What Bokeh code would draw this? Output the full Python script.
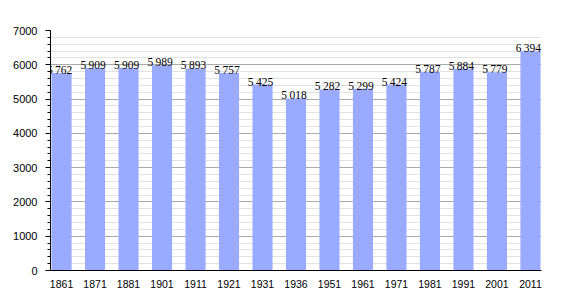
from bokeh.plotting import figure
from bokeh.models import Range1d, FixedTicker, SingleIntervalTicker, ColumnDataSource, LabelSet
from bokeh.embed import file_html
from bokeh.resources import INLINE

years = ["1861", "1871", "1881", "1901", "1911", "1921", "1931", "1936",
         "1951", "1961", "1971", "1981", "1991", "2001", "2011"]
population = [5762, 5909, 5909, 5989, 5893, 5757, 5425, 5018,
              5282, 5299, 5424, 5787, 5884, 5779, 6394]

xs = list(range(len(years)))
labels = [f"{v // 1000}\u2009{v % 1000:03d}" for v in population]

src = ColumnDataSource(dict(x=xs, top=population, label=labels))

p = figure(width=570, height=300, output_backend="svg", toolbar_location=None,
           x_range=Range1d(-0.33, len(years) - 1 + 0.33),
           y_range=Range1d(0, 7000),
           min_border_left=50, min_border_right=29,
           min_border_top=30, min_border_bottom=30)
p.outline_line_color = None
p.background_fill_color = "white"
p.border_fill_color = "white"

p.vbar(x="x", top="top", width=0.6, source=src, fill_color="#99aaff", line_color=None)

lbl = LabelSet(x="x", y="top", text="label", source=src, text_align="center",
               text_baseline="alphabetic", x_offset=-2, y_offset=-1,
               text_font="Liberation Sans", text_font_size="11.5px", text_color="black")
p.add_layout(lbl)

# y axis
p.yaxis.ticker = SingleIntervalTicker(interval=1000, num_minor_ticks=5)
p.yaxis.axis_line_color = "black"
p.yaxis.major_tick_line_color = "black"
p.yaxis.minor_tick_line_color = "black"
p.yaxis.major_tick_out = 5
p.yaxis.major_tick_in = 0
p.yaxis.minor_tick_out = 3
p.yaxis.minor_tick_in = 0
p.yaxis.major_label_standoff = 8
p.yaxis.major_label_text_font = "Liberation Sans"
p.yaxis.major_label_text_font_size = "11px"
p.yaxis.major_label_text_color = "black"

# x axis
p.xaxis.ticker = FixedTicker(ticks=xs)
p.xaxis.major_label_overrides = {i: y for i, y in zip(xs, years)}
p.xaxis.axis_line_color = "black"
p.xaxis.major_tick_line_color = None
p.xaxis.minor_tick_line_color = None
p.xaxis.major_label_standoff = 3
p.xaxis.major_label_text_font = "Liberation Sans"
p.xaxis.major_label_text_font_size = "10.5px"
p.xaxis.major_label_text_color = "black"

# grid
p.xgrid.grid_line_color = None
p.ygrid.grid_line_color = "#aaaaaa"
p.ygrid.minor_grid_line_color = "#e2e2e2"
p.ygrid.level = "underlay"

open("out.html", "w").write(file_html(p, INLINE))
